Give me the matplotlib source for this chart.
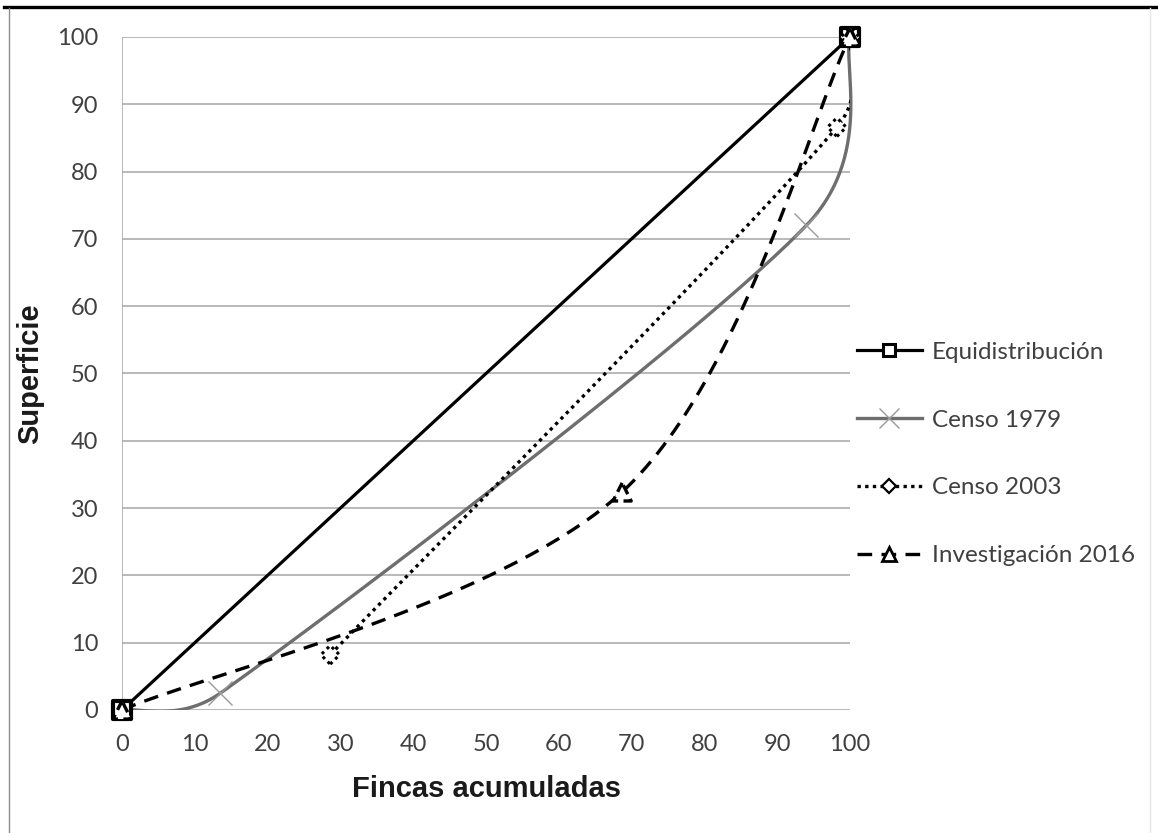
import numpy as np
import matplotlib
matplotlib.use("Agg")
import matplotlib.pyplot as plt
from matplotlib.lines import Line2D
from matplotlib.patches import Rectangle
from matplotlib.legend_handler import HandlerTuple

# ---- data ----
equi_x = [0, 100]
equi_y = [0, 100]
c1979_x = [0, 13.5, 94, 100]
c1979_y = [0, 2.5, 72, 100]
c2003_x = [28.6, 98.2, 100]
c2003_y = [8.2, 86.6, 100]
inv_x = [0, 68.7, 100]
inv_y = [0, 32.4, 100]

labels = ["Equidistribución", "Censo 1979", "Censo 2003", "Investigación 2016"]
xticks = list(range(0, 101, 10))
yticks = list(range(0, 101, 10))
xlabel = "Fincas acumuladas"
ylabel = "Superficie"

W, H, DPI = 1158, 833, 100
SX, SY = 7.28, 6.73  # pixel per data unit (for smoothing geometry)


def excel_smooth(xs, ys, n=60):
    """Excel-like smoothed line (Bezier through points)."""
    P = [np.array([x * SX, y * SY], float) for x, y in zip(xs, ys)]
    out = [P[0]]
    for i in range(len(P) - 1):
        p1, p2 = P[i], P[i + 1]
        p0 = P[i - 1] if i > 0 else p1
        p3 = P[i + 2] if i + 2 < len(P) else p2
        d12 = np.linalg.norm(p2 - p1)
        d02 = np.linalg.norm(p2 - p0)
        d13 = np.linalg.norm(p3 - p1)
        f1 = min(1 / 6, d12 / (2 * d02)) if d02 > 0 else 0
        f2 = min(1 / 6, d12 / (2 * d13)) if d13 > 0 else 0
        c1 = p1 + f1 * (p2 - p0)
        c2 = p2 - f2 * (p3 - p1)
        t = np.linspace(0, 1, n)[1:, None]
        seg = ((1 - t) ** 3) * p1 + 3 * ((1 - t) ** 2) * t * c1 + 3 * (1 - t) * t ** 2 * c2 + t ** 3 * p2
        out.extend(seg)
    out = np.array(out)
    return out[:, 0] / SX, out[:, 1] / SY


plt.rcParams['font.family'] = ['Lato', 'DejaVu Sans']
fig = plt.figure(figsize=(W / DPI, H / DPI), dpi=DPI)
ax = fig.add_axes([122 / W, 1 - 710 / H, (850 - 122) / W, (710 - 37) / H])
ax.set_xlim(0, 100)
ax.set_ylim(0, 100)

grid_c = '#a6a6a6'
for yv in yticks:
    ax.axhline(yv, color=grid_c, lw=1.1, zorder=1)
ax.axvline(0, color=grid_c, lw=1.1, zorder=1)
for s in ax.spines.values():
    s.set_visible(False)
ax.set_xticks(xticks)
ax.set_yticks(yticks)
ax.tick_params(length=0, labelsize=17, labelcolor='#404040')
ax.tick_params(axis='x', pad=17.5)
ax.tick_params(axis='y', pad=17)
ax.set_xlabel(xlabel, fontsize=21, fontweight='bold', family=['Liberation Sans', 'DejaVu Sans'],
              color='#1a1a1a', labelpad=14)
ax.set_ylabel(ylabel, fontsize=21, fontweight='bold', family=['Liberation Sans', 'DejaVu Sans'],
              color='#1a1a1a', labelpad=9)

clip_wide = Rectangle((-1, 0), 101.6, 101, transform=ax.transData, fill=False, visible=False)
clip_tight = Rectangle((-1, 0), 101.0, 101, transform=ax.transData, fill=False, visible=False)
ax.add_patch(clip_wide)
ax.add_patch(clip_tight)

# Equidistribución
l_eq, = ax.plot(equi_x, equi_y, color='black', lw=2.3, zorder=3, solid_capstyle='butt')
s_eq = ax.scatter(equi_x, equi_y, marker='s', s=150, facecolors='white', edgecolors='black',
                  linewidths=3.0, zorder=4, clip_on=False)

# Censo 1979
gx, gy = excel_smooth(c1979_x, c1979_y)
l_79, = ax.plot(gx, gy, color='#6e6e6e', lw=2.4, zorder=3, solid_capstyle='butt')
l_79.set_clip_path(clip_wide)
s_79 = ax.scatter(c1979_x[1:-1], c1979_y[1:-1], marker='x', s=300, color='#9a9a9a',
                  linewidths=1.0, zorder=4, clip_on=False)

# Censo 2003
dx, dy = excel_smooth(c2003_x, c2003_y)
l_03, = ax.plot(dx, dy, color='black', lw=2.4, zorder=3, dashes=(1, 1.3))
l_03.set_clip_path(clip_tight)
s_03 = ax.scatter(c2003_x, c2003_y, marker='D', s=90, facecolors='white', edgecolors='black',
                  linewidths=2.2, linestyles=(0, (1, 1.3)), zorder=5, clip_on=False)

# Investigación 2016
ix, iy = excel_smooth(inv_x, inv_y)
l_16, = ax.plot(ix, iy, color='black', lw=2.4, zorder=3, dashes=(4.4, 2.8))
l_16.set_clip_path(clip_wide)
s_16 = ax.scatter(inv_x, inv_y, marker='^', s=170, facecolors='white', edgecolors='black',
                  linewidths=2.4, linestyles=(0, (3, 1.6)), zorder=6, clip_on=False)

# legend
h_eq = (Line2D([], [], color='black', lw=2.3),
        Line2D([], [], color='black', marker='s', markersize=9, markerfacecolor='white',
               markeredgecolor='black', markeredgewidth=2.2, linestyle='none'))
h_79 = (Line2D([], [], color='#6e6e6e', lw=2.4),
        Line2D([], [], color='#9a9a9a', marker='x', markersize=14, markeredgewidth=1.0,
               linestyle='none'))
h_03 = (Line2D([], [], color='black', lw=2.4, dashes=(1, 1.3)),
        Line2D([], [], color='black', marker='D', markersize=7, markerfacecolor='white',
               markeredgecolor='black', markeredgewidth=1.6, linestyle='none'))
h_16 = (Line2D([], [], color='black', lw=2.4, dashes=(4.4, 2.8)),
        Line2D([], [], color='black', marker='^', markersize=10, markerfacecolor='white',
               markeredgecolor='black', markeredgewidth=2.0, linestyle='none'))
leg = fig.legend([h_eq, h_79, h_03, h_16], labels, loc='center left',
                 bbox_to_anchor=(835 / W, 1 - 454 / H), frameon=False, fontsize=17.5,
                 handlelength=2.67, handletextpad=0.42, labelspacing=1.93,
                 handler_map={tuple: HandlerTuple(ndivide=1, pad=0)})
for t in leg.get_texts():
    t.set_color('#404040')

# outer frame pieces
fig.add_artist(Line2D([4 / W, 1], [1 - 6.5 / H, 1 - 6.5 / H], transform=fig.transFigure,
                      color='black', lw=2.4))
fig.add_artist(Line2D([8.5 / W, 8.5 / W], [0, 1 - 8 / H], transform=fig.transFigure,
                      color='#8c8c8c', lw=1.0))
fig.add_artist(Line2D([1150 / W, 1150 / W], [0, 1 - 8 / H], transform=fig.transFigure,
                      color='#e6e6e6', lw=1.0))

fig.savefig('out.png', dpi=DPI)
